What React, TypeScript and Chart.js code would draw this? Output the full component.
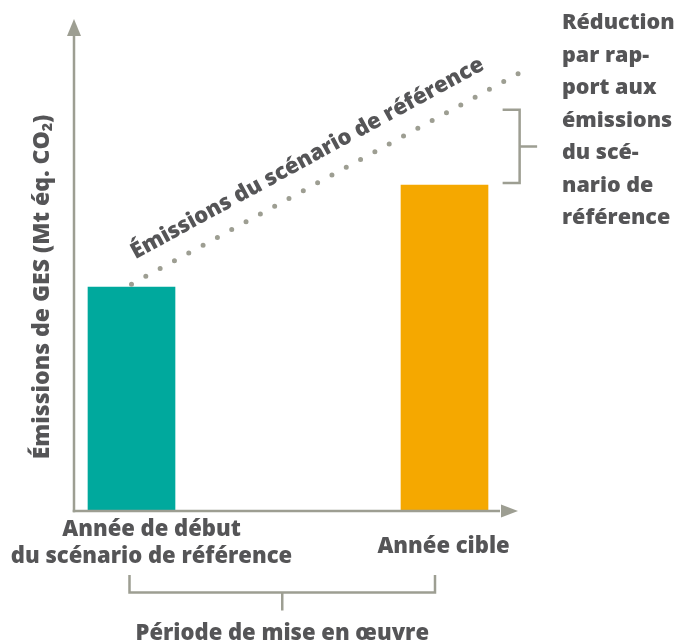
import React, { useEffect, useRef } from "react";
import { Chart, registerables } from "chart.js";

Chart.register(...registerables);

// ---- data ----
const categories: string[][] = [
  ["Année de début", "du scénario de référence"],
  ["Année cible"],
];
const categoryX = [0, 1];
const emissions = [45.6, 66.4];
const baselineX = [0, 1.251];
const baselineY = [46.2, 89.6];
const reductionRange = [66.8, 81.7];
const lineLabel = "Émissions du scénario de référence";
const yTitle = ["Émissions de GES (Mt éq. CO", "2", ")"];
const reductionLabel = ["Réduction", "par rap-", "port aux", "émissions", "du scé-", "nario de", "référence"];
const periodLabel = "Période de mise en œuvre";

const TEAL = "#00a99d";
const ORANGE = "#f5a800";
const GREY = "#9d9e92";
const TEXT = "#555557";
const FONT = "'Open Sans', 'Noto Sans', sans-serif";
const FS = 22;
const FW = "800";

const decorPlugin = {
  id: "decor",
  afterDatasetsDraw(chart: any) {
    const ctx: CanvasRenderingContext2D = chart.ctx;
    const xs = chart.scales.x;
    const ys = chart.scales.y;
    const area = chart.chartArea;
    ctx.save();
    ctx.strokeStyle = GREY;
    ctx.fillStyle = GREY;
    ctx.lineWidth = 2.5;
    ctx.lineCap = "butt";

    // y axis with arrow
    const ax = area.left;
    const ay = area.bottom;
    ctx.beginPath();
    ctx.moveTo(ax, ay + 1.25);
    ctx.lineTo(ax, area.top + 16);
    ctx.stroke();
    ctx.beginPath();
    ctx.moveTo(ax, area.top - 1);
    ctx.lineTo(ax - 7, area.top + 16);
    ctx.lineTo(ax + 7, area.top + 16);
    ctx.closePath();
    ctx.fill();

    // x axis with arrow
    ctx.beginPath();
    ctx.moveTo(ax - 1.25, ay);
    ctx.lineTo(area.right - 22, ay);
    ctx.stroke();
    ctx.beginPath();
    ctx.moveTo(area.right - 4, ay);
    ctx.lineTo(area.right - 21, ay - 6.5);
    ctx.lineTo(area.right - 21, ay + 6.5);
    ctx.closePath();
    ctx.fill();

    // right bracket (reduction)
    const bTop = ys.getPixelForValue(reductionRange[1]);
    const bBot = ys.getPixelForValue(reductionRange[0]);
    const bx = xs.getPixelForValue(1.24);
    ctx.beginPath();
    ctx.moveTo(bx - 17, bTop);
    ctx.lineTo(bx, bTop);
    ctx.lineTo(bx, bBot);
    ctx.lineTo(bx - 17, bBot);
    ctx.moveTo(bx, (bTop + bBot) / 2);
    ctx.lineTo(bx + 17.5, (bTop + bBot) / 2);
    ctx.stroke();

    // bottom bracket (period)
    const pL = xs.getPixelForValue(categoryX[0]) - 2;
    const pR = xs.getPixelForValue(categoryX[1]) - 9.5;
    const pTop = ay + 64;
    const pY = ay + 81.5;
    const pMid = (pL + pR) / 2;
    ctx.beginPath();
    ctx.moveTo(pL, pTop);
    ctx.lineTo(pL, pY);
    ctx.lineTo(pR, pY);
    ctx.lineTo(pR, pTop);
    ctx.moveTo(pMid, pY);
    ctx.lineTo(pMid, pY + 18);
    ctx.stroke();

    // texts
    ctx.fillStyle = TEXT;
    ctx.font = `${FW} ${FS}px ${FONT}`;
    ctx.textAlign = "center";
    ctx.textBaseline = "alphabetic";
    // category labels
    const c0 = xs.getPixelForValue(categoryX[0]) + 20;
    ctx.fillText(categories[0][0], c0, ay + 25);
    ctx.fillText(categories[0][1], c0, ay + 52);
    const c1 = xs.getPixelForValue(categoryX[1]) - 1;
    ctx.fillText(categories[1][0], c1, ay + 42);
    // period label
    ctx.fillText(periodLabel, pMid, ay + 129);

    // reduction label
    ctx.textAlign = "left";
    ctx.font = `${FW} 21.5px ${FONT}`;
    reductionLabel.forEach((s, i) => {
      ctx.fillText(s, 562, 29 + i * 32.5);
    });
    ctx.font = `${FW} ${FS}px ${FONT}`;

    // rotated line label
    const x0 = xs.getPixelForValue(baselineX[0]);
    const y0 = ys.getPixelForValue(baselineY[0]);
    const x1 = xs.getPixelForValue(baselineX[1]);
    const y1 = ys.getPixelForValue(baselineY[1]);
    const ang = Math.atan2(y1 - y0, x1 - x0);
    const t = (320 - x0) / (x1 - x0);
    ctx.save();
    ctx.translate(x0 + t * (x1 - x0), y0 + t * (y1 - y0));
    ctx.rotate(ang);
    ctx.textAlign = "center";
    ctx.fillText(lineLabel, 0, -20);
    ctx.restore();

    // y title
    const YF = 23;
    ctx.save();
    ctx.translate(49, 287);
    ctx.rotate(-Math.PI / 2);
    ctx.textAlign = "left";
    ctx.font = `${FW} ${YF}px ${FONT}`;
    const w0 = ctx.measureText(yTitle[0]).width;
    ctx.font = `${FW} 14px ${FONT}`;
    const w1 = ctx.measureText(yTitle[1]).width;
    ctx.font = `${FW} ${YF}px ${FONT}`;
    const w2 = ctx.measureText(yTitle[2]).width;
    const total = w0 + w1 + w2;
    let cx = -total / 2;
    ctx.fillText(yTitle[0], cx, 0);
    cx += w0;
    ctx.font = `${FW} 14px ${FONT}`;
    ctx.fillText(yTitle[1], cx, 3);
    cx += w1;
    ctx.font = `${FW} ${YF}px ${FONT}`;
    ctx.fillText(yTitle[2], cx, 0);
    ctx.restore();

    ctx.restore();
  },
};

export default function App() {
  const ref = useRef<HTMLCanvasElement | null>(null);
  useEffect(() => {
    document.body.style.margin = "0";
    const canvas = ref.current!;
    const chart = new Chart(canvas, {
      type: "bar",
      data: {
        datasets: [
          {
            type: "bar",
            data: categoryX.map((x, i) => ({ x, y: emissions[i] })),
            backgroundColor: [TEAL, ORANGE],
            barThickness: 87,
            borderWidth: 0,
            order: 2,
          } as any,
          {
            type: "line",
            data: baselineX.map((x, i) => ({ x, y: baselineY[i] })),
            borderColor: GREY,
            borderWidth: 5,
            borderDash: [0, 16.3],
            borderCapStyle: "round",
            pointRadius: 0,
            fill: false,
            clip: false,
            order: 1,
          } as any,
        ],
      },
      options: {
        responsive: false,
        animation: false,
        devicePixelRatio: 1,
        layout: { padding: { left: 74, right: 154, top: 20, bottom: 133 } },
        plugins: { legend: { display: false }, tooltip: { enabled: false } },
        scales: {
          x: { type: "linear", min: -0.1837, max: 1.2476, offset: false, display: false },
          y: { type: "linear", min: 0, max: 100, display: false },
        },
      },
      plugins: [decorPlugin],
    });
    return () => chart.destroy();
  }, []);
  return <canvas ref={ref} width={676} height={644} style={{ display: "block" }} />;
}
